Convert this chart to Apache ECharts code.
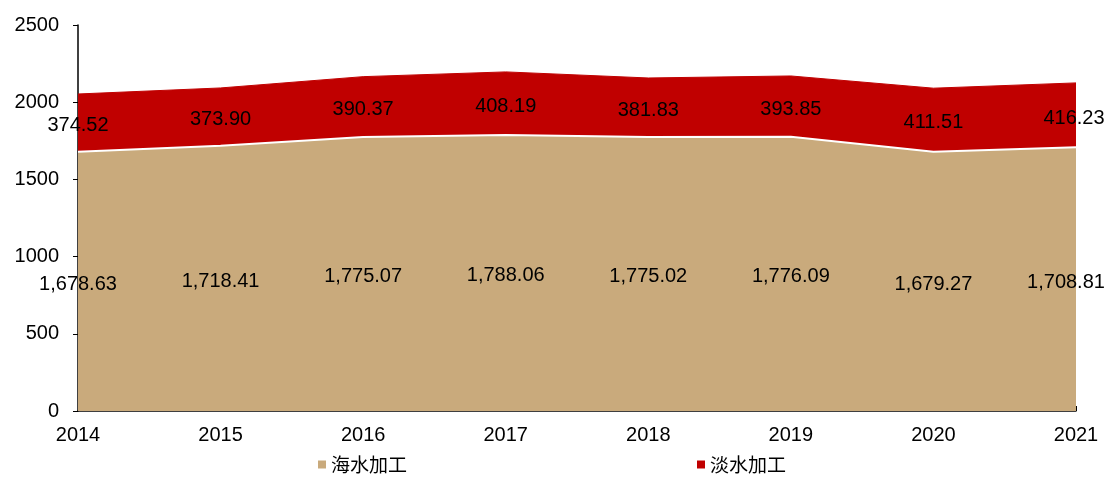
<!DOCTYPE html>
<html>
<head>
<meta charset="utf-8">
<script src="https://cdn.jsdelivr.net/npm/echarts@6/dist/echarts.min.js"></script>
<style>
html, body { margin: 0; padding: 0; background: #fff; }
#chart { width: 1109px; height: 480px; }
</style>
</head>
<body>
<div id="chart"></div>
<script>
// 海水 / 淡水 加工 堆积面积图
const years = ['2014', '2015', '2016', '2017', '2018', '2019', '2020', '2021'];
const seaValues = [1678.63, 1718.41, 1775.07, 1788.06, 1775.02, 1776.09, 1679.27, 1708.81];
const freshValues = [374.52, 373.90, 390.37, 408.19, 381.83, 393.85, 411.51, 416.23];
const yTicks = { min: 0, max: 2500, interval: 500 };

const FONT = '"Liberation Sans", Arial, sans-serif';
const fmt = v => v.toLocaleString('en-US', { minimumFractionDigits: 2, maximumFractionDigits: 2 });

// 标签放在各自面积带的中间
const seaMid = seaValues.map(v => v / 2);
const freshMid = freshValues.map((v, i) => seaValues[i] + v / 2);

function labelSeries(mid, raw, lastShift) {
    const last = mid.length - 1;
    return {
        type: 'line',
        data: mid.map((v, i) => i === last
            ? { value: v, label: { offset: [lastShift, 3] } }
            : v),
        symbol: 'circle',
        symbolSize: 1,
        showSymbol: true,
        itemStyle: { color: 'rgba(0,0,0,0)' },
        silent: true,
        lineStyle: { width: 0, color: 'rgba(0,0,0,0)' },
        z: 10,
        label: {
            show: true,
            position: 'inside',
            offset: [0, 3],
            color: '#000',
            fontSize: 20,
            fontFamily: FONT,
            formatter: p => fmt(raw[p.dataIndex])
        }
    };
}

const chart = echarts.init(document.getElementById('chart'));
chart.setOption({
    animation: false,
    textStyle: { fontFamily: FONT },
    grid: { left: 78, right: 33, top: 25, bottom: 69 },
    legend: {
        data: ['海水加工', '淡水加工'],
        left: 313,
        bottom: 1,
        itemWidth: 8,
        itemHeight: 8,
        itemGap: 290,
        icon: 'rect',
        textStyle: { fontSize: 19, color: '#000', fontFamily: '"Noto Sans CJK SC", sans-serif' }
    },
    xAxis: {
        type: 'category',
        boundaryGap: false,
        data: years,
        axisLine: { lineStyle: { color: '#000', width: 1.5 } },
        axisTick: { inside: true, length: 5, lineStyle: { color: '#000' } },
        axisLabel: { color: '#000', fontSize: 20, margin: 14 }
    },
    yAxis: {
        type: 'value',
        min: yTicks.min,
        max: yTicks.max,
        interval: yTicks.interval,
        axisLine: { show: true, lineStyle: { color: '#000', width: 1.5 } },
        axisTick: { show: true, length: 5, lineStyle: { color: '#000' } },
        splitLine: { show: false },
        axisLabel: { color: '#000', fontSize: 20, margin: 19, formatter: v => String(v) }
    },
    series: [
        {
            name: '海水加工',
            type: 'line',
            stack: 'total',
            data: seaValues,
            showSymbol: false,
            color: '#C9AA7C',
            lineStyle: { color: '#fff', width: 2 },
            areaStyle: { color: '#C9AA7C', opacity: 1 },
            z: 3
        },
        {
            name: '淡水加工',
            type: 'line',
            stack: 'total',
            data: freshValues,
            showSymbol: false,
            color: '#C00000',
            lineStyle: { color: '#C00000', width: 1 },
            areaStyle: { color: '#C00000', opacity: 1 },
            z: 2
        },
        labelSeries(seaMid, seaValues, -10),
        labelSeries(freshMid, freshValues, -2)
    ]
});
</script>
</body>
</html>
